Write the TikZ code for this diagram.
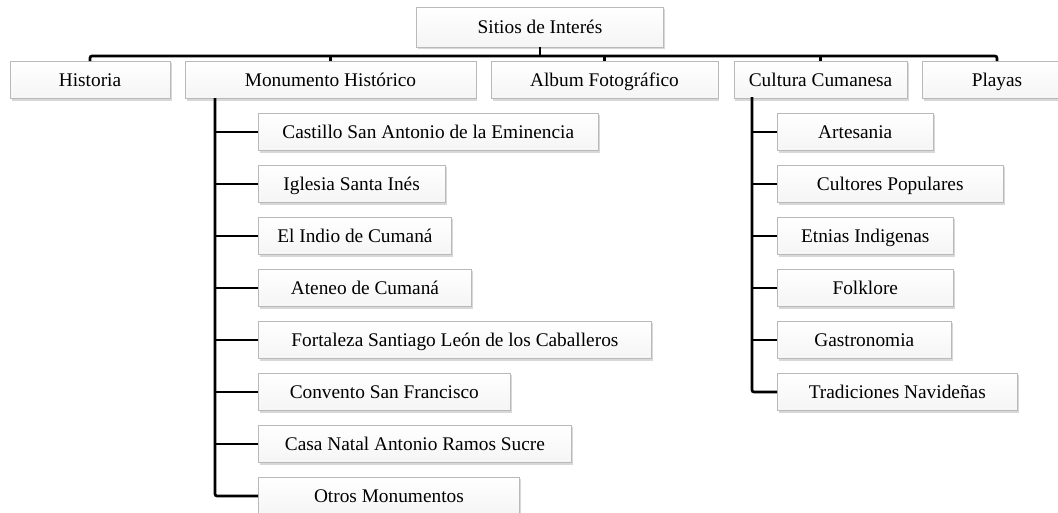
\documentclass[tikz,border=0pt]{standalone}
\usepackage{fontspec}
\setmainfont{Liberation Serif}
\usepackage{xcolor}
\usetikzlibrary{shadows}

\tikzset{
  box/.style={draw=gray!55, top color=white, bottom color=gray!8, minimum height=28pt,
    inner sep=0pt, text height=11pt, text depth=2pt, font=\fontsize{14.5}{16}\selectfont, text=black,
    drop shadow={shadow xshift=1.2pt, shadow yshift=-1.4pt, fill=black!30}},
  conn/.style={line width=2pt, black, rounded corners=1.5pt}
}

\begin{document}
\begin{tikzpicture}[x=0.75pt,y=-0.75pt]
  \useasboundingbox (0,0) rectangle (1058,512);

  % top and first level
  \node[box, minimum width=185pt, minimum height=30pt] (top) at (540,27) {Sitios de Interés};
  \node[box, minimum width=120pt] (hist) at (90,80) {Historia};
  \node[box, minimum width=218pt] (monu) at (330.5,80) {Monumento Histórico};
  \node[box, minimum width=170pt] (album) at (604.5,80) {Album Fotográfico};
  \node[box, minimum width=130pt] (cult) at (820.5,80) {Cultura Cumanesa};
  \node[box, minimum width=112pt] (playas) at (997,80) {Playas};

  \coordinate (bar) at (540,56);
  \draw[conn] (hist.north) -- (hist.north |- bar) -- (playas.north |- bar) -- (playas.north);
  \draw[conn] (top.south) -- (top.south |- bar);
  \foreach \n in {monu,album,cult}
    \draw[conn] (\n.north) -- (\n.north |- bar);

  % monumentos
  \node[box, anchor=west, minimum width=255pt] (m1) at (258,132) {Castillo San Antonio de la Eminencia};
  \node[box, anchor=west, minimum width=140pt] (m2) at (258,184) {Iglesia Santa Inés};
  \node[box, anchor=west, minimum width=145pt] (m3) at (258,236) {El Indio de Cumaná};
  \node[box, anchor=west, minimum width=160pt] (m4) at (258,288) {Ateneo de Cumaná};
  \node[box, anchor=west, minimum width=295pt] (m5) at (258,340) {Fortaleza Santiago León de los Caballeros};
  \node[box, anchor=west, minimum width=189pt] (m6) at (258,392) {Convento San Francisco};
  \node[box, anchor=west, minimum width=235pt] (m7) at (258,444) {Casa Natal Antonio Ramos Sucre};
  \node[box, anchor=west, minimum width=196pt] (m8) at (258,496) {Otros Monumentos};

  \coordinate (mtrunk) at (215,98);
  \draw[conn] (mtrunk) |- (m8.west);
  \foreach \n in {m1,m2,m3,m4,m5,m6,m7}
    \draw[conn] (mtrunk |- \n.west) -- (\n.west);

  % cultura
  \node[box, anchor=west, minimum width=117pt] (c1) at (777,132) {Artesania};
  \node[box, anchor=west, minimum width=169.5pt] (c2) at (777,184) {Cultores Populares};
  \node[box, anchor=west, minimum width=132pt] (c3) at (777,236) {Etnias Indigenas};
  \node[box, anchor=west, minimum width=132pt] (c4) at (777,288) {Folklore};
  \node[box, anchor=west, minimum width=130.5pt] (c5) at (777,340) {Gastronomia};
  \node[box, anchor=west, minimum width=180pt] (c6) at (777,392) {Tradiciones Navideñas};

  \coordinate (ctrunk) at (752,97);
  \draw[conn] (ctrunk) |- (c6.west);
  \foreach \n in {c1,c2,c3,c4,c5}
    \draw[conn] (ctrunk |- \n.west) -- (\n.west);
\end{tikzpicture}
\end{document}
